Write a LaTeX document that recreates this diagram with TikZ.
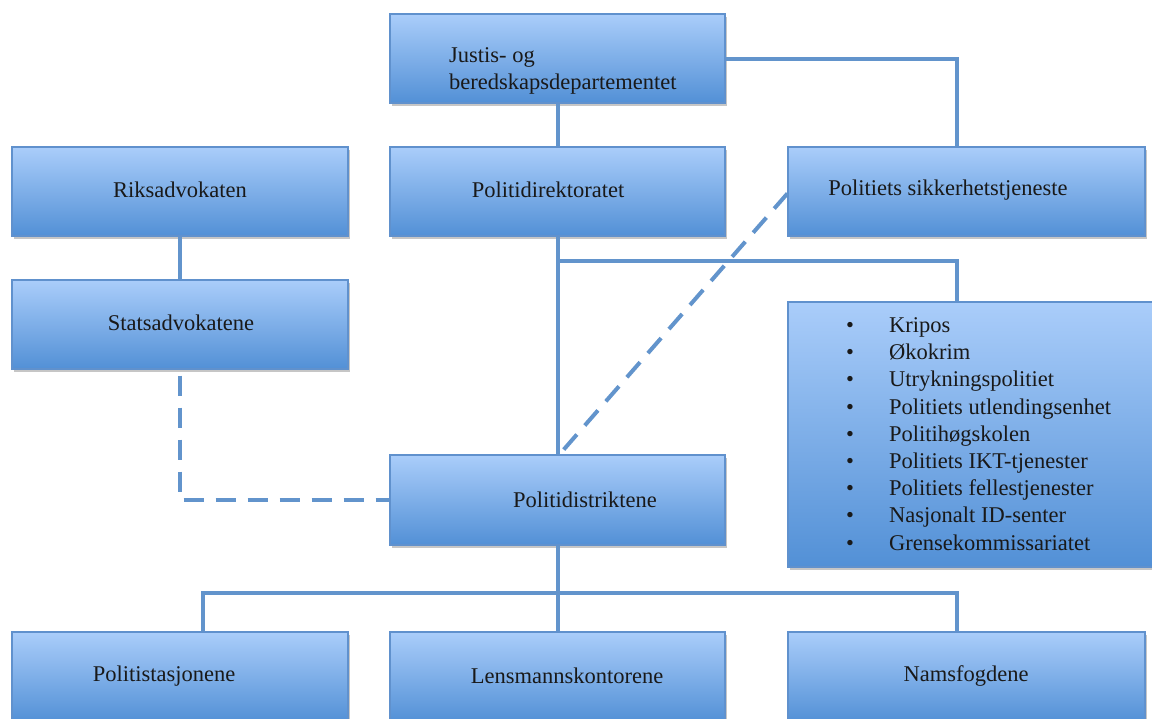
\documentclass[tikz,border=0pt]{standalone}
\usepackage{fontspec}
\setmainfont{Liberation Serif}
\usetikzlibrary{shadows}
\definecolor{boxtop}{RGB}{170,205,250}
\definecolor{boxbot}{RGB}{82,144,214}
\definecolor{boxline}{RGB}{96,145,205}
\definecolor{connc}{RGB}{98,148,204}
\tikzset{
  box/.style={rectangle, draw=boxline, line width=1.2pt, top color=boxtop, bottom color=boxbot,
    drop shadow={shadow xshift=1.5pt, shadow yshift=-3pt, opacity=0.45}, inner sep=0pt},
  lbl/.style={font=\fontsize{22.5}{27.2}\selectfont, inner sep=0pt, text=black!90},
  conn/.style={draw=connc, line width=4pt},
  dconn/.style={conn, dash pattern=on 20pt off 12pt}
}
\begin{document}
\begin{tikzpicture}[x=1pt,y=-1pt]
\useasboundingbox (0,0) rectangle (1152,718);
% boxes
\node[box, minimum width=335pt, minimum height=89pt] (jd) at (557.5,58.5) {};
\node[box, minimum width=336pt, minimum height=89pt] (ra) at (180,191.5) {};
\node[box, minimum width=335pt, minimum height=89pt] (pd) at (557.5,191.5) {};
\node[box, minimum width=357pt, minimum height=89pt] (pst) at (966.5,191.5) {};
\node[box, minimum width=336pt, minimum height=89pt] (sa) at (180,324.5) {};
\node[box, minimum width=372pt, minimum height=265pt] (kr) at (974,434.5) {};
\node[box, minimum width=335pt, minimum height=90pt] (pdi) at (557.5,500) {};
\node[box, minimum width=336pt, minimum height=90pt] (ps) at (180,677) {};
\node[box, minimum width=335pt, minimum height=90pt] (lk) at (557.5,677) {};
\node[box, minimum width=357pt, minimum height=90pt] (nf) at (966.5,677) {};
% texts
\node[lbl, anchor=west, align=left] (tjd) at (449,71) {Justis- og\\beredskapsdepartementet};
\node[lbl] (tra) at (180,190) {Riksadvokaten};
\node[lbl] (tpd) at (548,190) {Politidirektoratet};
\node[lbl] (tpst) at (948,190) {Politiets sikkerhetstjeneste};
\node[lbl] (tsa) at (181,323) {Statsadvokatene};
\node[lbl, anchor=west, align=left] (tkr) at (846,434) {%
\makebox[43pt][l]{•}Kripos\\
\makebox[43pt][l]{•}Økokrim\\
\makebox[43pt][l]{•}Utrykningspolitiet\\
\makebox[43pt][l]{•}Politiets utlendingsenhet\\
\makebox[43pt][l]{•}Politihøgskolen\\
\makebox[43pt][l]{•}Politiets IKT-tjenester\\
\makebox[43pt][l]{•}Politiets fellestjenester\\
\makebox[43pt][l]{•}Nasjonalt ID-senter\\
\makebox[43pt][l]{•}Grensekommissariatet};
\node[lbl] (tpdi) at (585,500) {Politidistriktene};
\node[lbl] (tps) at (164,676) {Politistasjonene};
\node[lbl] (tlk) at (567,676) {Lensmannskontorene};
\node[lbl] (tnf) at (966,676) {Namsfogdene};
% connectors
\draw[conn] (jd.south) -- (pd.north);
\draw[conn] (jd.east) -| ([xshift=-9.5pt]pst.north);
\draw[conn] (ra.south) -- (sa.north);
\draw[conn] (pd.south) -- (pdi.north);
\coordinate (j1) at ([yshift=-24pt]pd.south);
\draw[conn] (j1) -| ([xshift=-17pt]kr.north);
\draw[dconn] ([yshift=-2pt]pst.west) -- ([xshift=2pt]pdi.north);
\draw[dconn] ([yshift=-6pt]sa.south) |- (pdi.west);
\draw[conn] (pdi.south) -- (lk.north);
\coordinate (j2) at ([yshift=-47pt]pdi.south);
\draw[conn] ([xshift=23pt]ps.north) |- (j2) -| ([xshift=-9.5pt]nf.north);
\end{tikzpicture}
\end{document}
